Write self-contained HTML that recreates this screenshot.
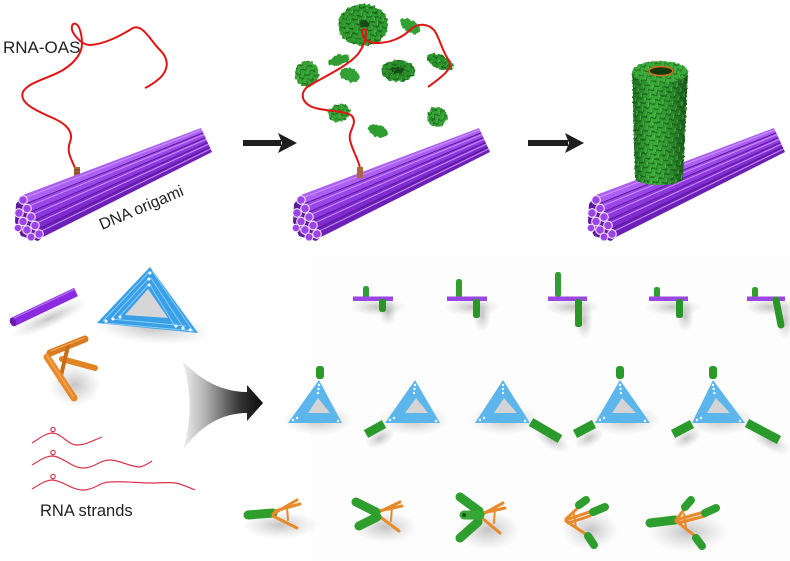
<!DOCTYPE html>
<html><head><meta charset="utf-8">
<style>
html,body{margin:0;padding:0;background:#fff;}
svg{display:block;}
text{font-family:"Liberation Sans",Arial,sans-serif;fill:#222;}
</style></head><body>
<svg width="790" height="561" viewBox="0 0 790 561" xmlns="http://www.w3.org/2000/svg">
<defs>
 <filter id="rough" x="-30%" y="-30%" width="160%" height="160%">
  <feTurbulence type="fractalNoise" baseFrequency="0.3" numOctaves="2" seed="3" result="n"/>
  <feDisplacementMap in="SourceGraphic" in2="n" scale="4" xChannelSelector="R" yChannelSelector="G"/>
 </filter>
 <filter id="rough2" x="-10%" y="-10%" width="120%" height="120%">
  <feTurbulence type="fractalNoise" baseFrequency="0.5" numOctaves="1" seed="7" result="n"/>
  <feDisplacementMap in="SourceGraphic" in2="n" scale="2.5" xChannelSelector="R" yChannelSelector="G"/>
 </filter>
 <radialGradient id="sg">
  <stop offset="0" stop-color="#8a8a8a" stop-opacity="0.5"/>
  <stop offset="0.5" stop-color="#9a9a9a" stop-opacity="0.25"/>
  <stop offset="1" stop-color="#aaaaaa" stop-opacity="0"/>
 </radialGradient>
 <pattern id="spk" width="7" height="6" patternUnits="userSpaceOnUse" patternTransform="rotate(-35)">
  <path d="M0,5 L3.5,1 L7,5" stroke="#134f13" stroke-width="1.2" fill="none"/>
  <path d="M0.6,3.6 L3.5,0.4" stroke="#6fd26f" stroke-width="0.7" fill="none"/>
 </pattern>
 <linearGradient id="cylg" x1="632" x2="688" y1="0" y2="0" gradientUnits="userSpaceOnUse">
  <stop offset="0" stop-color="#1c6a1c"/>
  <stop offset="0.35" stop-color="#3bb03b"/>
  <stop offset="0.65" stop-color="#2e962e"/>
  <stop offset="1" stop-color="#175417"/>
 </linearGradient>
 <linearGradient id="arrg" x1="182" x2="262" y1="0" y2="0" gradientUnits="userSpaceOnUse">
  <stop offset="0" stop-color="#f2f2f2"/>
  <stop offset="0.3" stop-color="#b0b0b0"/>
  <stop offset="0.7" stop-color="#3a3a3a"/>
  <stop offset="1" stop-color="#0a0a0a"/>
 </linearGradient>
</defs>

<rect width="790" height="561" fill="#fff"/>
<rect x="310" y="256" width="480" height="305" fill="#fdfdfd"/>

<!-- ===== Top-left panel ===== -->
<text x="3" y="53" font-size="17">RNA-OAS</text>
<path d="M75,168 C72,160 66,152 70,142 C74,132 66,124 55,119 C40,112 18,104 23,92 C28,82 50,78 63,70 C76,62 82,52 82,44 C82,36 80,26 76,24 C72,22 70,28 74,34 C78,40 84,45 90,45 C105,44 120,36 133,28 C143,24 150,40 160,50 C170,60 168,70 160,78 C154,83 150,86 145,88" fill="none" stroke="#e01414" stroke-width="2"/>
<rect x="74" y="167" width="6" height="12" fill="#b0653a"/>
<path d="M74,170 h6 M74,173 h6 M74,176 h6" stroke="#6a3010" stroke-width="0.7"/>

<g>
 <polygon points="23,195 201,128 203.2,132.8 27,203.4" fill="#ab60f3"/>
 <polygon points="27,203.4 203.2,132.8 205.4,137.6 31,211.8" fill="#9a46e8"/>
 <polygon points="31,211.8 205.4,137.6 207.6,142.4 35,220.2" fill="#8d37de"/>
 <polygon points="35,220.2 207.6,142.4 209.8,147.2 39,228.6" fill="#7f2bd0"/>
 <polygon points="39,228.6 209.8,147.2 212,152 43,237" fill="#6d20b8"/>
 <g stroke="#5a1496" stroke-width="0.9">
  <line x1="27" y1="203.4" x2="203.2" y2="132.8"/>
  <line x1="31" y1="211.8" x2="205.4" y2="137.6"/>
  <line x1="35" y1="220.2" x2="207.6" y2="142.4"/>
  <line x1="39" y1="228.6" x2="209.8" y2="147.2"/>
 </g>
 <g stroke="#d2a2fb" stroke-width="1.1" opacity="0.8">
  <line x1="24.4" y1="197.9" x2="201.8" y2="129.7"/>
  <line x1="28.4" y1="206.3" x2="204" y2="134.5"/>
  <line x1="32.4" y1="214.7" x2="206.2" y2="139.3"/>
  <line x1="36.4" y1="223.1" x2="208.4" y2="144.1"/>
  <line x1="40.4" y1="231.5" x2="210.6" y2="148.9"/>
 </g>
 <polygon points="23,195 43,237 38,241 21,236 15,222 16,204" fill="#5e1a9c"/>
 <g fill="#9c44e6" stroke="#f4e4ff" stroke-width="1.1">
  <circle cx="23" cy="200" r="4.3"/>
  <circle cx="27" cy="208.5" r="4.3"/>
  <circle cx="31" cy="217" r="4.3"/>
  <circle cx="35" cy="225.5" r="4.3"/>
  <circle cx="39" cy="234" r="4.3"/>
  <circle cx="19" cy="213" r="4.3"/>
  <circle cx="23" cy="221.5" r="4.3"/>
  <circle cx="27" cy="230" r="4.3"/>
  <circle cx="31" cy="237" r="4"/>
  <circle cx="18" cy="228" r="3.8"/>
 </g>
</g>
<text x="102" y="230" font-size="16" transform="rotate(-23 102 230)">DNA origami</text>

<!-- ===== Arrows ===== -->
<rect x="243" y="140" width="38" height="6" fill="#1e1e1e"/>
<polygon points="278,133 297,143 278,153 282,143" fill="#1e1e1e"/>
<rect x="528" y="140" width="40" height="6" fill="#1e1e1e"/>
<polygon points="565,133 584,143 565,153 569,143" fill="#1e1e1e"/>

<!-- ===== Top-middle panel ===== -->
<g transform="translate(278,0)">
 <polygon points="23,195 201,128 203.2,132.8 27,203.4" fill="#ab60f3"/>
 <polygon points="27,203.4 203.2,132.8 205.4,137.6 31,211.8" fill="#9a46e8"/>
 <polygon points="31,211.8 205.4,137.6 207.6,142.4 35,220.2" fill="#8d37de"/>
 <polygon points="35,220.2 207.6,142.4 209.8,147.2 39,228.6" fill="#7f2bd0"/>
 <polygon points="39,228.6 209.8,147.2 212,152 43,237" fill="#6d20b8"/>
 <g stroke="#5a1496" stroke-width="0.9">
  <line x1="27" y1="203.4" x2="203.2" y2="132.8"/>
  <line x1="31" y1="211.8" x2="205.4" y2="137.6"/>
  <line x1="35" y1="220.2" x2="207.6" y2="142.4"/>
  <line x1="39" y1="228.6" x2="209.8" y2="147.2"/>
 </g>
 <g stroke="#d2a2fb" stroke-width="1.1" opacity="0.8">
  <line x1="24.4" y1="197.9" x2="201.8" y2="129.7"/>
  <line x1="28.4" y1="206.3" x2="204" y2="134.5"/>
  <line x1="32.4" y1="214.7" x2="206.2" y2="139.3"/>
  <line x1="36.4" y1="223.1" x2="208.4" y2="144.1"/>
  <line x1="40.4" y1="231.5" x2="210.6" y2="148.9"/>
 </g>
 <polygon points="23,195 43,237 38,241 21,236 15,222 16,204" fill="#5e1a9c"/>
 <g fill="#9c44e6" stroke="#f4e4ff" stroke-width="1.1">
  <circle cx="23" cy="200" r="4.3"/>
  <circle cx="27" cy="208.5" r="4.3"/>
  <circle cx="31" cy="217" r="4.3"/>
  <circle cx="35" cy="225.5" r="4.3"/>
  <circle cx="39" cy="234" r="4.3"/>
  <circle cx="19" cy="213" r="4.3"/>
  <circle cx="23" cy="221.5" r="4.3"/>
  <circle cx="27" cy="230" r="4.3"/>
  <circle cx="31" cy="237" r="4"/>
  <circle cx="18" cy="228" r="3.8"/>
 </g>
</g>

<g filter="url(#rough)">
 <ellipse cx="363" cy="25" rx="25" ry="21" fill="#2f9b2f"/>
 <ellipse cx="363" cy="25" rx="25" ry="21" fill="url(#spk)" opacity="0.8"/>
 <ellipse cx="364" cy="24" rx="5" ry="4" fill="#154d15"/>
 <ellipse cx="410" cy="26" rx="11" ry="6" transform="rotate(30 410 26)" fill="#32a032"/>
 <ellipse cx="440" cy="62" rx="14" ry="7" transform="rotate(25 440 62)" fill="#2b962b"/>
 <ellipse cx="339" cy="60" rx="11" ry="5" transform="rotate(-15 339 60)" fill="#2f9c2f"/>
 <ellipse cx="307" cy="74" rx="12" ry="13" fill="#36a436"/>
 <ellipse cx="350" cy="75" rx="10" ry="7" transform="rotate(20 350 75)" fill="#32a032"/>
 <ellipse cx="339" cy="113" rx="11" ry="9" transform="rotate(-30 339 113)" fill="#36a436"/>
 <ellipse cx="378" cy="131" rx="10" ry="6" transform="rotate(20 378 131)" fill="#2f9c2f"/>
 <ellipse cx="437" cy="117" rx="10" ry="10" fill="#36a436"/>
 <ellipse cx="398" cy="71" rx="17" ry="11" fill="#2a902a"/>
 <ellipse cx="398" cy="70" rx="7" ry="3.5" fill="#134d13"/>
 <g fill="url(#spk)" opacity="0.7">
  <ellipse cx="307" cy="74" rx="12" ry="13"/>
  <ellipse cx="440" cy="62" rx="14" ry="7" transform="rotate(25 440 62)"/>
  <ellipse cx="339" cy="113" rx="11" ry="9"/>
  <ellipse cx="437" cy="117" rx="10" ry="10"/>
  <ellipse cx="398" cy="71" rx="17" ry="11"/>
 </g>
</g>
<path d="M360,168 C358,158 352,150 350,140 C348,130 358,124 352,116 C346,110 322,112 310,106 C300,100 300,90 312,84 C330,74 350,64 358,54 C364,46 366,38 366,32 C366,28 362,28 362,32 C362,38 368,43 376,43 C390,43 402,38 410,30 C418,22 428,24 434,30 C440,38 442,52 450,62 C452,70 440,78 428,87" fill="none" stroke="#e01414" stroke-width="2"/>
<rect x="357" y="167" width="6" height="11" fill="#b0653a"/>

<!-- ===== Top-right panel ===== -->
<g transform="translate(573,0)">
 <polygon points="23,195 201,128 203.2,132.8 27,203.4" fill="#ab60f3"/>
 <polygon points="27,203.4 203.2,132.8 205.4,137.6 31,211.8" fill="#9a46e8"/>
 <polygon points="31,211.8 205.4,137.6 207.6,142.4 35,220.2" fill="#8d37de"/>
 <polygon points="35,220.2 207.6,142.4 209.8,147.2 39,228.6" fill="#7f2bd0"/>
 <polygon points="39,228.6 209.8,147.2 212,152 43,237" fill="#6d20b8"/>
 <g stroke="#5a1496" stroke-width="0.9">
  <line x1="27" y1="203.4" x2="203.2" y2="132.8"/>
  <line x1="31" y1="211.8" x2="205.4" y2="137.6"/>
  <line x1="35" y1="220.2" x2="207.6" y2="142.4"/>
  <line x1="39" y1="228.6" x2="209.8" y2="147.2"/>
 </g>
 <g stroke="#d2a2fb" stroke-width="1.1" opacity="0.8">
  <line x1="24.4" y1="197.9" x2="201.8" y2="129.7"/>
  <line x1="28.4" y1="206.3" x2="204" y2="134.5"/>
  <line x1="32.4" y1="214.7" x2="206.2" y2="139.3"/>
  <line x1="36.4" y1="223.1" x2="208.4" y2="144.1"/>
  <line x1="40.4" y1="231.5" x2="210.6" y2="148.9"/>
 </g>
 <polygon points="23,195 43,237 38,241 21,236 15,222 16,204" fill="#5e1a9c"/>
 <g fill="#9c44e6" stroke="#f4e4ff" stroke-width="1.1">
  <circle cx="23" cy="200" r="4.3"/>
  <circle cx="27" cy="208.5" r="4.3"/>
  <circle cx="31" cy="217" r="4.3"/>
  <circle cx="35" cy="225.5" r="4.3"/>
  <circle cx="39" cy="234" r="4.3"/>
  <circle cx="19" cy="213" r="4.3"/>
  <circle cx="23" cy="221.5" r="4.3"/>
  <circle cx="27" cy="230" r="4.3"/>
  <circle cx="31" cy="237" r="4"/>
  <circle cx="18" cy="228" r="3.8"/>
 </g>
</g>
<g filter="url(#rough2)">
 <path d="M632,72 L635,178 A24,7 0 0 0 683,178 L688,72 Z" fill="url(#cylg)"/>
 <path d="M632,72 L635,178 A24,7 0 0 0 683,178 L688,72 Z" fill="url(#spk)" opacity="0.75"/>
 <ellipse cx="660" cy="72" rx="28" ry="11" fill="#3aaa3a"/>
 <ellipse cx="660" cy="72" rx="28" ry="11" fill="url(#spk)" opacity="0.6"/>
</g>
<ellipse cx="661" cy="71" rx="13" ry="5" fill="#0f3a0f"/>
<ellipse cx="661" cy="71" rx="12" ry="4.5" fill="none" stroke="#e06a1a" stroke-width="1.5"/>

<!-- ===== Soft shadows (gradient ellipses) ===== -->
<g fill="url(#sg)">
 <ellipse cx="50" cy="318" rx="42" ry="9" transform="rotate(-25 50 318)"/>
 <ellipse cx="152" cy="328" rx="60" ry="16" transform="rotate(5 152 328)"/>
 <ellipse cx="75" cy="385" rx="26" ry="22"/>
 <ellipse cx="378" cy="307" rx="28" ry="9"/><ellipse cx="388" cy="312" rx="9" ry="13"/>
 <ellipse cx="472" cy="307" rx="28" ry="9"/><ellipse cx="482" cy="316" rx="9" ry="16"/>
 <ellipse cx="572" cy="307" rx="28" ry="9"/><ellipse cx="584" cy="320" rx="9" ry="20"/>
 <ellipse cx="673" cy="307" rx="28" ry="9"/><ellipse cx="685" cy="316" rx="9" ry="16"/>
 <ellipse cx="770" cy="307" rx="26" ry="9"/><ellipse cx="785" cy="320" rx="9" ry="20"/>
 <ellipse cx="318" cy="420" rx="36" ry="15"/>
 <ellipse cx="414" cy="420" rx="36" ry="15"/><ellipse cx="380" cy="438" rx="16" ry="9" transform="rotate(-28 380 438)"/>
 <ellipse cx="505" cy="420" rx="36" ry="15"/><ellipse cx="552" cy="440" rx="20" ry="9" transform="rotate(30 552 440)"/>
 <ellipse cx="625" cy="420" rx="36" ry="15"/><ellipse cx="589" cy="438" rx="16" ry="9" transform="rotate(-28 589 438)"/>
 <ellipse cx="720" cy="420" rx="36" ry="15"/><ellipse cx="687" cy="438" rx="16" ry="9" transform="rotate(-28 687 438)"/><ellipse cx="770" cy="441" rx="22" ry="9" transform="rotate(28 770 441)"/>
 <ellipse cx="280" cy="525" rx="38" ry="14"/>
 <ellipse cx="385" cy="527" rx="32" ry="16"/>
 <ellipse cx="488" cy="530" rx="32" ry="20"/>
 <ellipse cx="590" cy="530" rx="28" ry="20"/>
 <ellipse cx="688" cy="532" rx="40" ry="20"/>
</g>

<!-- ===== Bottom-left panel ===== -->
<g>
 <line x1="13" y1="322" x2="76" y2="292" stroke="#8a2be2" stroke-width="9"/>
 <line x1="12" y1="319" x2="74" y2="289.5" stroke="#b06cf0" stroke-width="1.5"/>
 <ellipse cx="13" cy="322" rx="3" ry="4.5" transform="rotate(-25 13 322)" fill="#6a1ab0"/>
</g>
<g>
 <path d="M150,267 L97,323 L198,333 Z" fill="#3a9fe6"/>
 <path d="M148,289 L125,315 L168,318 Z" fill="#d6d6d6"/>
 <g stroke="#86cdfa" stroke-width="1" fill="none">
  <path d="M150,271 L103,321 M149,278 L111,319 M149,284 L119,317"/>
  <path d="M152,271 L193,331 M151,278 L185,330 M150,285 L176,328"/>
  <path d="M104,323 L194,331 M112,319 L186,326"/>
 </g>
 <g fill="#fff">
  <circle cx="150" cy="273" r="1.5"/><circle cx="149" cy="279" r="1.5"/><circle cx="149" cy="285" r="1.5"/>
  <circle cx="106" cy="321" r="1.5"/><circle cx="113" cy="319" r="1.5"/><circle cx="120" cy="317" r="1.5"/>
  <circle cx="190" cy="330" r="1.5"/><circle cx="183" cy="328" r="1.5"/><circle cx="176" cy="326" r="1.5"/>
 </g>
</g>
<g stroke-linecap="round">
 <line x1="50" y1="353" x2="85" y2="339" stroke="#d97b20" stroke-width="7"/>
 <line x1="62" y1="359" x2="95" y2="368" stroke="#e08424" stroke-width="6"/>
 <line x1="68" y1="346" x2="60" y2="380" stroke="#c96e18" stroke-width="4"/>
 <line x1="47" y1="357" x2="74" y2="398" stroke="#e88a2a" stroke-width="7"/>
 <line x1="47" y1="356" x2="73" y2="396" stroke="#f4ac5a" stroke-width="1.2"/>
 <line x1="51" y1="351" x2="84" y2="338" stroke="#f4ac5a" stroke-width="1.2"/>
</g>
<path d="M182,360 C200,380 222,392 247,392 L247,385 L263,403 L247,421 L247,413 C222,413 200,426 183,450 C192,420 192,390 182,360 Z" fill="url(#arrg)"/>

<g fill="none" stroke="#d8354d" stroke-width="1.2">
 <path d="M32,443 C40,438 46,433 53,433 C62,434 68,445 77,445 C86,445 94,440 102,437"/>
 <path d="M32,465 C40,460 46,456 53,456 C63,457 72,468 83,468 C94,468 100,460 110,460 C120,460 130,467 140,467 C145,466 149,463 152,461"/>
 <path d="M32,489 C40,484 46,480 53,480 C63,481 72,490 83,490 C94,490 100,482 110,482 C125,481 138,483 150,483 C162,483 170,482 176,483 C184,485 190,488 195,490"/>
 <circle cx="53" cy="429.5" r="2.2"/><circle cx="53" cy="452.5" r="2.2"/><circle cx="53" cy="476.5" r="2.2"/>
</g>
<text x="40" y="516" font-size="16.5">RNA strands</text>

<!-- ===== Bottom-right panel: row 1 ===== -->
<g>
 <rect x="363" y="286" width="6" height="12" rx="2.5" fill="#2f9f2f"/>
 <rect x="353" y="296.5" width="40" height="4.5" fill="#9b45e2"/>
 <rect x="379" y="299" width="7" height="13" rx="2.5" fill="#2a962a"/>
</g>
<g>
 <rect x="456" y="279" width="6" height="19" rx="2.5" fill="#2f9f2f"/>
 <rect x="447" y="296.5" width="40" height="4.5" fill="#9b45e2"/>
 <rect x="473" y="299" width="7" height="19" rx="2.5" fill="#2a962a"/>
</g>
<g>
 <rect x="555" y="272" width="6" height="25" rx="2.5" fill="#2f9f2f"/>
 <rect x="548" y="296.5" width="39" height="4.5" fill="#9b45e2"/>
 <rect x="575" y="299" width="7" height="28" rx="2.5" fill="#2a962a"/>
</g>
<g>
 <rect x="654" y="287" width="6" height="11" rx="2.5" fill="#2f9f2f"/>
 <rect x="649" y="296.5" width="39" height="4.5" fill="#9b45e2"/>
 <rect x="676" y="299" width="7" height="19" rx="2.5" fill="#2a962a"/>
</g>
<g>
 <rect x="752" y="287" width="6" height="11" rx="2.5" fill="#2f9f2f"/>
 <rect x="747" y="296.5" width="38" height="4.5" fill="#9b45e2"/>
 <line x1="776" y1="300" x2="781" y2="325" stroke="#2a962a" stroke-width="7" stroke-linecap="round"/>
</g>

<!-- row 2: triangles -->
<g>
 <g transform="translate(319,380)">
  <path d="M0,0 L-31,43 L23,43 Z" fill="#5cb6ec"/>
  <path d="M-1,18 L-11,33 L11,33 Z" fill="#d4d4d4"/>
  <g fill="#fff"><circle cx="0" cy="5" r="1.2"/><circle cx="-0.5" cy="9" r="1.2"/><circle cx="-1" cy="13" r="1.2"/><circle cx="-26" cy="40" r="1.2"/><circle cx="-22" cy="38" r="1.2"/><circle cx="19" cy="41" r="1.2"/></g>
 </g>
 <rect x="316" y="366" width="8" height="13" rx="3" fill="#2a9a2a"/>
</g>
<g>
 <g transform="translate(415,380)">
  <path d="M0,0 L-30,43 L25,43 Z" fill="#5cb6ec"/>
  <path d="M1,18 L-10,33 L13,33 Z" fill="#d4d4d4"/>
  <g fill="#fff"><circle cx="0" cy="5" r="1.2"/><circle cx="-0.5" cy="9" r="1.2"/><circle cx="-1" cy="13" r="1.2"/><circle cx="-25" cy="40" r="1.2"/><circle cx="-21" cy="38" r="1.2"/><circle cx="21" cy="41" r="1.2"/></g>
 </g>
 <line x1="366" y1="434" x2="384" y2="424" stroke="#2a9a2a" stroke-width="9"/>
</g>
<g>
 <g transform="translate(503,380)">
  <path d="M0,0 L-28,43 L27,43 Z" fill="#5cb6ec"/>
  <path d="M1,18 L-9,33 L14,33 Z" fill="#d4d4d4"/>
  <g fill="#fff"><circle cx="0" cy="5" r="1.2"/><circle cx="0" cy="9" r="1.2"/><circle cx="0" cy="13" r="1.2"/><circle cx="-23" cy="40" r="1.2"/><circle cx="-19" cy="38" r="1.2"/><circle cx="22" cy="41" r="1.2"/></g>
 </g>
 <line x1="531" y1="422" x2="560" y2="439" stroke="#2a9a2a" stroke-width="9"/>
</g>
<g>
 <g transform="translate(620,380)">
  <path d="M0,0 L-25,43 L30,43 Z" fill="#5cb6ec"/>
  <path d="M2,18 L-8,33 L16,33 Z" fill="#d4d4d4"/>
  <g fill="#fff"><circle cx="0" cy="5" r="1.2"/><circle cx="0.5" cy="9" r="1.2"/><circle cx="1" cy="13" r="1.2"/><circle cx="-20" cy="40" r="1.2"/><circle cx="-16" cy="38" r="1.2"/><circle cx="25" cy="41" r="1.2"/></g>
 </g>
 <rect x="616" y="366" width="8" height="13" rx="3" fill="#2a9a2a"/>
 <line x1="575" y1="434" x2="594" y2="424" stroke="#2a9a2a" stroke-width="9"/>
</g>
<g>
 <g transform="translate(713,380)">
  <path d="M0,0 L-21,43 L32,43 Z" fill="#5cb6ec"/>
  <path d="M3,18 L-6,33 L17,33 Z" fill="#d4d4d4"/>
  <g fill="#fff"><circle cx="0" cy="5" r="1.2"/><circle cx="0.7" cy="9" r="1.2"/><circle cx="1.4" cy="13" r="1.2"/><circle cx="-16" cy="40" r="1.2"/><circle cx="-12" cy="38" r="1.2"/><circle cx="27" cy="41" r="1.2"/></g>
 </g>
 <rect x="709" y="366" width="8" height="13" rx="3" fill="#2a9a2a"/>
 <line x1="673" y1="434" x2="692" y2="424" stroke="#2a9a2a" stroke-width="9"/>
 <line x1="747" y1="423" x2="779" y2="440" stroke="#2a9a2a" stroke-width="9"/>
</g>

<!-- row 3: tripods -->
<g stroke-linecap="round">
 <line x1="248" y1="515" x2="273" y2="513" stroke="#2e9e2e" stroke-width="9"/>
 <g stroke="#e8892a" stroke-width="3">
  <line x1="273" y1="514" x2="297" y2="500"/><line x1="275" y1="511" x2="300" y2="504"/>
  <line x1="273" y1="516" x2="297" y2="528"/><line x1="287" y1="507" x2="288" y2="520" stroke-width="2"/>
 </g>
</g>
<g stroke-linecap="round">
 <g stroke="#e8892a" stroke-width="3">
  <line x1="377" y1="513" x2="400" y2="502"/><line x1="379" y1="511" x2="402" y2="506"/>
  <line x1="379" y1="516" x2="399" y2="531"/><line x1="392" y1="506" x2="391" y2="521" stroke-width="2"/>
 </g>
 <line x1="356" y1="502" x2="376" y2="512" stroke="#2e9e2e" stroke-width="9"/>
 <line x1="359" y1="526" x2="377" y2="517" stroke="#2e9e2e" stroke-width="9"/>
</g>
<g stroke-linecap="round">
 <g stroke="#e8892a" stroke-width="3">
  <line x1="481" y1="515" x2="503" y2="503"/><line x1="483" y1="513" x2="505" y2="508"/>
  <line x1="482" y1="518" x2="500" y2="533"/><line x1="495" y1="507" x2="494" y2="523" stroke-width="2"/>
 </g>
 <line x1="460" y1="497" x2="479" y2="511" stroke="#2e9e2e" stroke-width="9"/>
 <line x1="460" y1="538" x2="478" y2="522" stroke="#2e9e2e" stroke-width="9"/>
 <line x1="464" y1="515" x2="480" y2="515" stroke="#36a836" stroke-width="9"/>
 <circle cx="464" cy="515" r="2" fill="#145214"/>
</g>
<g stroke-linecap="round">
 <g stroke="#e8892a" stroke-width="3">
  <line x1="566" y1="519" x2="580" y2="506"/><line x1="566" y1="520" x2="592" y2="511"/>
  <line x1="568" y1="523" x2="590" y2="516"/><line x1="566" y1="521" x2="587" y2="535"/>
  <line x1="574" y1="514" x2="576" y2="528" stroke-width="2"/>
 </g>
 <line x1="579" y1="505" x2="586" y2="500" stroke="#2e9e2e" stroke-width="8"/>
 <line x1="593" y1="512" x2="605" y2="507" stroke="#2e9e2e" stroke-width="8"/>
 <line x1="588" y1="536" x2="594" y2="545" stroke="#2e9e2e" stroke-width="8"/>
</g>
<g stroke-linecap="round">
 <line x1="650" y1="523" x2="675" y2="520" stroke="#2e9e2e" stroke-width="9"/>
 <g stroke="#e8892a" stroke-width="3">
  <line x1="676" y1="520" x2="686" y2="507"/><line x1="676" y1="520" x2="704" y2="512"/>
  <line x1="678" y1="523" x2="705" y2="516"/><line x1="676" y1="521" x2="695" y2="536"/>
  <line x1="684" y1="514" x2="686" y2="528" stroke-width="2"/>
 </g>
 <line x1="685" y1="507" x2="691" y2="500" stroke="#2e9e2e" stroke-width="8"/>
 <line x1="705" y1="513" x2="716" y2="508" stroke="#2e9e2e" stroke-width="8"/>
 <line x1="696" y1="538" x2="702" y2="546" stroke="#2e9e2e" stroke-width="8"/>
</g>
</svg>
</body></html>
